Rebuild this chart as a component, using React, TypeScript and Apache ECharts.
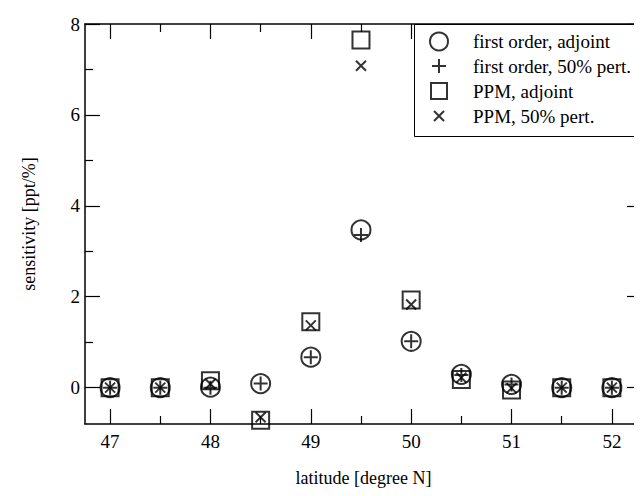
import React, { useEffect, useRef } from "react";
import * as echarts from "echarts";

const latitudes = [47, 47.5, 48, 48.5, 49, 49.5, 50, 50.5, 51, 51.5, 52];
const firstOrderAdjoint = [0, 0, 0.01, 0.09, 0.67, 3.47, 1.02, 0.29, 0.07, 0, 0];
const firstOrderPert = [0, 0, 0, 0.09, 0.67, 3.36, 1.02, 0.28, 0.07, 0, 0];
const ppmAdjoint = [0, 0, 0.15, -0.72, 1.45, 7.65, 1.93, 0.18, -0.05, 0, 0];
const ppmPert = [0, 0, 0.08, -0.65, 1.37, 7.08, 1.83, 0.22, -0.01, 0, 0];

const xMajor = [47, 48, 49, 50, 51, 52];
const xMinor = [47.5, 48.5, 49.5, 50.5, 51.5];
const yMajor = [0, 2, 4, 6, 8];
const yMinor = [1, 3, 5, 7];

const seriesNames = [
  "first order, adjoint",
  "first order, 50% pert.",
  "PPM, adjoint",
  "PPM, 50% pert.",
];

const FONT = "'Liberation Serif', 'Times New Roman', serif";
const X_MIN = 46.75;
const X_MAX = 52.3;
const Y_MIN = -0.8;
const Y_MAX = 8;

const PLUS = "path://M0,-10L0,10M-10,0L10,0";
const CROSS = "path://M-10,-10L10,10M-10,10L10,-10";

const symbols = ["circle", PLUS, "rect", CROSS];
const sizes = [19, 14, 17, 10];
const legendSizes = [18, 14, 16, 10];

function pairs(vals: number[]) {
  return latitudes.map((x, i) => [x, vals[i]]);
}

export default function App() {
  const ref = useRef<HTMLDivElement>(null);
  useEffect(() => {
    if (!ref.current) return;
    const chart = echarts.init(ref.current, null, { renderer: "svg" });
    const line = { show: true, onZero: false, lineStyle: { color: "#000", width: 1.5 } };
    const noLine = { show: false, onZero: false };
    const tickStyle = { color: "#000", width: 1.2 };
    const mkX = (pos: string, ticks: number[], len: number, labels: boolean, showLine: boolean, name?: string) => ({
      type: "value",
      position: pos,
      min: X_MIN,
      max: X_MAX,
      axisLine: showLine ? line : noLine,
      splitLine: { show: false },
      axisTick: { show: true, inside: true, length: len, customValues: ticks, lineStyle: tickStyle },
      axisLabel: labels
        ? { show: true, customValues: xMajor, color: "#000", fontFamily: FONT, fontSize: 19, margin: 8 }
        : { show: false },
      name: name,
      nameLocation: "middle",
      nameGap: 45,
      nameTextStyle: { color: "#000", fontFamily: FONT, fontSize: 18 },
    });
    const mkY = (pos: string, ticks: number[], len: number, labels: boolean, showLine: boolean, name?: string) => ({
      type: "value",
      position: pos,
      min: Y_MIN,
      max: Y_MAX,
      axisLine: showLine ? line : noLine,
      splitLine: { show: false },
      axisTick: { show: true, inside: true, length: len, customValues: ticks, lineStyle: tickStyle },
      axisLabel: labels
        ? { show: true, customValues: yMajor, color: "#000", fontFamily: FONT, fontSize: 19, margin: 5 }
        : { show: false },
      name: name,
      nameLocation: "middle",
      nameGap: 47,
      nameTextStyle: { color: "#000", fontFamily: FONT, fontSize: 18 },
    });

    const hollow = { color: "rgba(0,0,0,0)", borderColor: "#000", borderWidth: 2 };

    const rowY = [41, 66, 91, 116];
    const legends = seriesNames.map((n, i) => {
      const s = legendSizes[i];
      const left = 438 - s / 2;
      return {
        show: true,
        orient: "vertical",
        left: left - 8,
        top: rowY[i] - 9.5 - 8,
        itemWidth: s,
        itemHeight: s,
        padding: 0,
        textStyle: { color: "#000", fontFamily: FONT, fontSize: 19, padding: [0, 0, 0, 472 - (left + s + 5)] },
        data: [n],
      };
    });

    chart.setOption({
      animation: false,
      backgroundColor: "#fff",
      grid: { left: 77, top: 16, right: 0, bottom: 72, containLabel: false },
      xAxis: [
        mkX("bottom", xMajor, 15, true, true, "latitude [degree N]"),
        mkX("bottom", xMinor, 8, false, false),
        mkX("top", xMajor, 15, false, true),
        mkX("top", xMinor, 8, false, false),
      ],
      yAxis: [
        mkY("left", yMajor, 15, true, true, "sensitivity [ppt/%]"),
        mkY("left", yMinor, 8, false, false),
        mkY("right", yMajor, 15, false, true),
        mkY("right", yMinor, 8, false, false),
      ],
      legend: legends,
      graphic: [
        {
          type: "rect",
          left: 406,
          top: 16,
          shape: { width: 240, height: 112 },
          style: { fill: "#fff", stroke: "#000", lineWidth: 1 },
          z: 1,
        },
      ],
      series: seriesNames.map((n, i) => ({
        name: n,
        type: "scatter",
        symbol: symbols[i],
        symbolSize: sizes[i],
        itemStyle: hollow,
        data: pairs([firstOrderAdjoint, firstOrderPert, ppmAdjoint, ppmPert][i]),
      })),
    });
    return () => chart.dispose();
  }, []);
  return <div ref={ref} style={{ width: 634, height: 488 }} />;
}
